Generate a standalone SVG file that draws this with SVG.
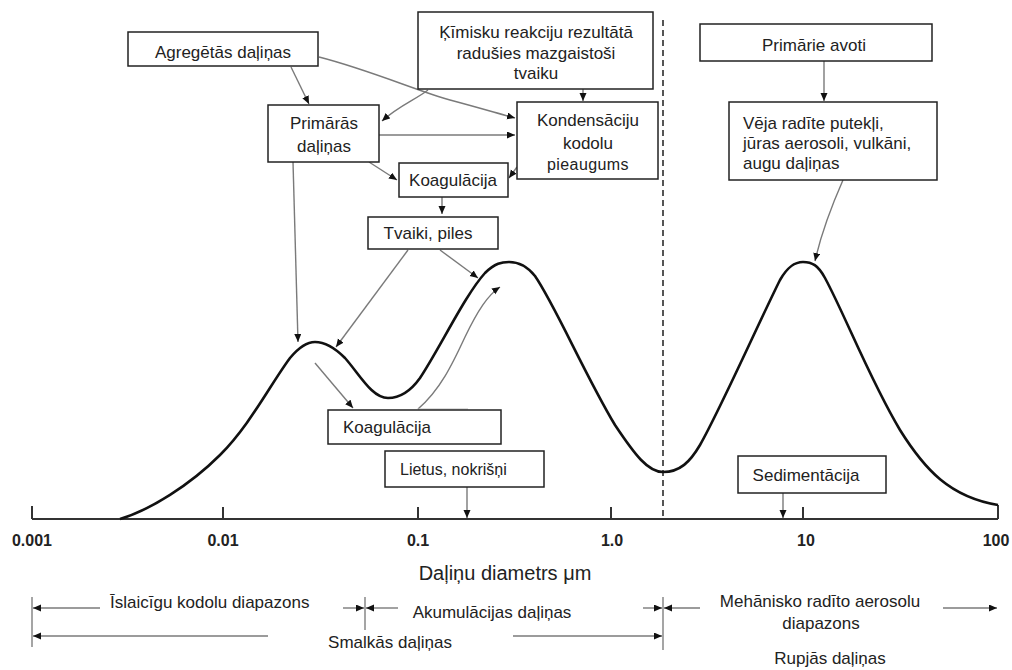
<svg xmlns="http://www.w3.org/2000/svg" width="1012" height="670" viewBox="0 0 1012 670">
<defs>
<style>
text{font-family:"Liberation Sans",Arial,sans-serif;font-size:17px;fill:#222;}
.c{text-anchor:middle;}
.box{fill:#fff;stroke:#222;stroke-width:1.5;}
.con{fill:none;stroke:#7a7a7a;stroke-width:1.4;}
.tick{font-weight:bold;font-size:16px;}
</style>
<marker id="ah" markerWidth="9" markerHeight="8" refX="8" refY="3.5" orient="auto" markerUnits="userSpaceOnUse">
<path d="M0,0 L8,3.5 L0,7 z" fill="#111"/>
</marker>
</defs>
<rect width="1012" height="670" fill="#fff"/>

<g id="axis">
<path d="M32,519 H998 M32,506 V519 M223,507 V519 M418,507 V519 M611,507 V519 M803,507 V519 M998,505 V519" fill="none" stroke="#333" stroke-width="2"/>
<text class="tick c" x="32" y="546">0.001</text>
<text class="tick c" x="223" y="546">0.01</text>
<text class="tick c" x="418" y="546">0.1</text>
<text class="tick c" x="612" y="546">1.0</text>
<text class="tick c" x="806" y="546">10</text>
<text class="tick c" x="996" y="546">100</text>
<text class="c" x="505" y="580" style="font-size:20px">Daļiņu diametrs  μm</text>
</g>

<g id="divider">
<line x1="663" y1="20" x2="663" y2="519" stroke="#555" stroke-width="2" stroke-dasharray="6,4"/>
</g>

<g id="curve">
<path d="M120,519 C150,510 190,485 220,455 C250,425 270,385 290,358 C300,346 308,342 315,342 C325,342 335,348 345,358 C360,375 372,398 388,398 C400,398 410,392 420,378 C440,348 465,295 485,273 C495,263 502,262 509,262 C518,262 527,266 535,276 C555,305 585,375 615,425 C635,455 648,472 663,472 C680,472 690,462 700,445 C720,410 760,320 780,280 C788,266 795,262 803,262 C812,262 818,265 825,278 C845,315 870,380 900,430 C925,470 950,497 998,505" fill="none" stroke="#111" stroke-width="2.6"/>
</g>

<g id="connectors">
<line class="con" x1="291" y1="67" x2="309" y2="104" marker-end="url(#ah)"/>
<path class="con" d="M319,57 C370,70 420,92 450,100 C480,108 500,114 515,118" marker-end="url(#ah)"/>
<path class="con" d="M428,90 C415,100 400,105 382,121" marker-end="url(#ah)"/>
<line class="con" x1="583" y1="89" x2="583" y2="101" marker-end="url(#ah)"/>
<line class="con" x1="379" y1="135" x2="515" y2="135" marker-end="url(#ah)"/>
<line class="con" x1="369" y1="162" x2="397" y2="180" marker-end="url(#ah)"/>
<line class="con" x1="517" y1="167" x2="509" y2="178" marker-end="url(#ah)"/>
<line class="con" x1="442" y1="197" x2="442" y2="214" marker-end="url(#ah)"/>
<line class="con" x1="293" y1="162" x2="298" y2="342" marker-end="url(#ah)"/>
<line class="con" x1="408" y1="250" x2="336" y2="347" marker-end="url(#ah)"/>
<line class="con" x1="440" y1="250" x2="478" y2="278" marker-end="url(#ah)"/>
<line class="con" x1="315" y1="363" x2="353" y2="408" marker-end="url(#ah)"/>
<path class="con" d="M418,409 C440,390 452,365 465,337 C478,310 488,295 500,287" marker-end="url(#ah)"/>
<line x1="418" y1="409" x2="468" y2="409" stroke="#bbb" stroke-width="1.2"/>
<line class="con" x1="824" y1="61" x2="824" y2="101" marker-end="url(#ah)"/>
<path class="con" d="M843,180 C832,205 822,230 815,261" marker-end="url(#ah)"/>
<line class="con" x1="467" y1="487" x2="467" y2="518" marker-end="url(#ah)"/>
<line class="con" x1="783" y1="493" x2="783" y2="518" marker-end="url(#ah)"/>
</g>

<g id="n-agregetas">
<rect class="box" x="128" y="32" width="190" height="34"/>
<text class="c" x="223" y="58">Agregētās daļiņas</text>
</g>
<g id="n-kimisku">
<rect class="box" x="418" y="12" width="235" height="77"/>
<text class="c" x="536" y="38">Ķīmisku reakciju rezultātā</text>
<text class="c" x="536" y="59">radušies mazgaistoši</text>
<text class="c" x="536" y="79">tvaiku</text>
</g>
<g id="n-primaras">
<rect class="box" x="268" y="105" width="111" height="57"/>
<text class="c" x="324" y="129">Primārās</text>
<text class="c" x="324" y="152">daļiņas</text>
</g>
<g id="n-kondensaciju">
<rect class="box" x="517" y="102" width="141" height="77"/>
<text class="c" x="588" y="126">Kondensāciju</text>
<text class="c" x="588" y="149">kodolu</text>
<text class="c" x="588" y="170" style="font-size:16px;letter-spacing:0.4px">pieaugums</text>
</g>
<g id="n-koagulacija1">
<rect class="box" x="399" y="163" width="109" height="34"/>
<text class="c" x="453" y="186">Koagulācija</text>
</g>
<g id="n-tvaiki">
<rect class="box" x="368" y="217" width="130" height="32"/>
<text class="c" x="428" y="239">Tvaiki, piles</text>
</g>
<g id="n-primarie">
<rect class="box" x="700" y="24" width="232" height="37"/>
<text class="c" x="814" y="51">Primārie avoti</text>
</g>
<g id="n-veja">
<rect class="box" x="729" y="102" width="208" height="78"/>
<text x="743" y="129">Vēja radīte putekļi,</text>
<text x="743" y="149">jūras aerosoli, vulkāni,</text>
<text x="743" y="169">augu daļiņas</text>
</g>
<g id="n-koagulacija2">
<rect class="box" x="328" y="410" width="173" height="34"/>
<text x="343" y="433">Koagulācija</text>
</g>
<g id="n-lietus">
<rect class="box" x="385" y="451" width="159" height="36"/>
<text x="400" y="475" style="font-size:16px">Lietus, nokrišņi</text>
</g>
<g id="n-sedimentacija">
<rect class="box" x="738" y="456" width="148" height="37"/>
<text class="c" x="806" y="481">Sedimentācija</text>
</g>

<g id="ranges">
<path d="M32,597 V647 M365,597 V630 M663,597 V650" stroke="#888" stroke-width="1.5" fill="none"/>
<line class="con" x1="100" y1="608" x2="33" y2="608" marker-end="url(#ah)"/>
<line class="con" x1="343" y1="608" x2="364" y2="608" marker-end="url(#ah)"/>
<line class="con" x1="398" y1="608" x2="366" y2="608" marker-end="url(#ah)"/>
<line class="con" x1="643" y1="608" x2="662" y2="608" marker-end="url(#ah)"/>
<line class="con" x1="700" y1="608" x2="664" y2="608" marker-end="url(#ah)"/>
<line class="con" x1="943" y1="608" x2="997" y2="608" marker-end="url(#ah)"/>
<line class="con" x1="268" y1="636" x2="33" y2="636" marker-end="url(#ah)"/>
<line class="con" x1="513" y1="636" x2="662" y2="636" marker-end="url(#ah)"/>
<text x="110" y="608">Īslaicīgu kodolu diapazons</text>
<text class="c" x="492" y="618">Akumulācijas daļiņas</text>
<text class="c" x="820" y="607">Mehānisko radīto aerosolu</text>
<text class="c" x="821" y="629">diapazons</text>
<text class="c" x="390" y="648">Smalkās daļiņas</text>
<text class="c" x="830" y="664">Rupjās daļiņas</text>
</g>
</svg>
